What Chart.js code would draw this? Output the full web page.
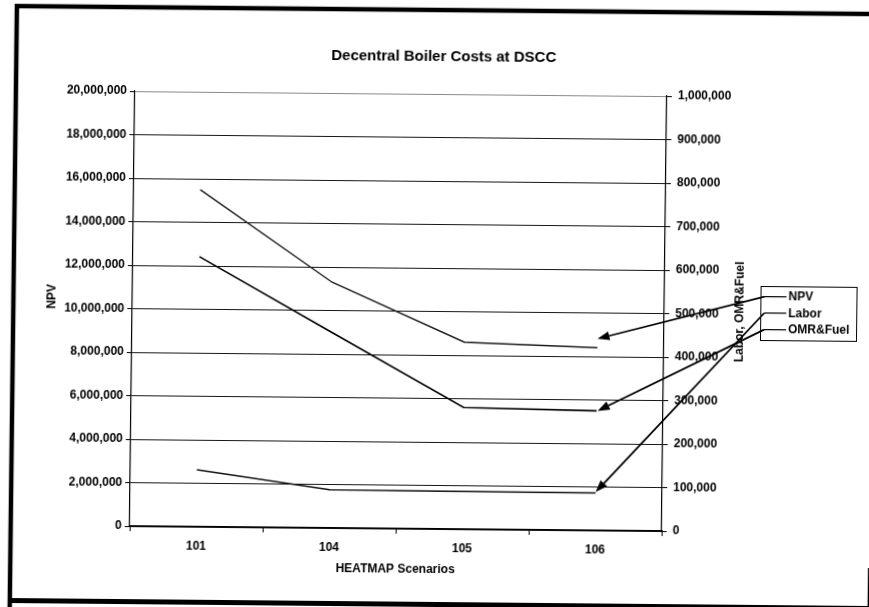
<!DOCTYPE html>
<html>
<head>
<meta charset="utf-8">
<title>Decentral Boiler Costs at DSCC</title>
<script src="https://cdn.jsdelivr.net/npm/chart.js@4.4.1/dist/chart.umd.min.js"></script>
<style>
  html, body { margin: 0; padding: 0; background: #fff; overflow: hidden; width: 869px; height: 607px; }
  /* the sheet sits slightly askew on the page */
  #sheet { position: absolute; left: 0; top: 0; width: 869px; height: 607px;
           transform-origin: 0 0; transform: matrix(1, 0.0093, -0.012, 1, 10, 0); }
</style>
</head>
<body>
<div id="sheet"><canvas id="chart" width="869" height="607"></canvas></div>
<script>
// HEATMAP scenarios along the x axis
const scenarios = ['101', '104', '105', '106'];

// Net present value (left axis)
const npv = [15500000, 11300000, 8600000, 8400000];

// Annual labor cost (right axis)
const labor = [131000, 88000, 87000, 86000];

// Annual OMR & fuel cost (right axis)
const omrFuel = [621000, 450000, 280000, 275000];

// Axis ranges and steps
const npvAxis = { min: 0, max: 20000000, step: 2000000 };
const costAxis = { min: 0, max: 1000000, step: 100000 };

const FONT = "'Liberation Sans', Arial, sans-serif";
Chart.defaults.font.family = FONT;
Chart.defaults.color = '#000';

const fmt = v => Number(v).toLocaleString('en-US');

// Callout arrows run from the legend keys to the last point of each series
const calloutOffsets = [[0, -9], [0, -1], [1, 0]];

const sheetNotes = {
  id: 'sheetNotes',
  beforeDraw(chart) {
    const c = chart.ctx;
    c.save();
    c.fillStyle = '#fff';
    c.fillRect(0, 0, chart.width, chart.height);
    // page frame
    c.strokeStyle = '#000';
    c.lineCap = 'butt';
    c.lineWidth = 4.5;
    c.beginPath();
    c.moveTo(7, 620); c.lineTo(7, 6); c.lineTo(880, 6);
    c.stroke();
    c.lineWidth = 5;
    c.beginPath();
    c.moveTo(5, 600.5); c.lineTo(880, 600.5);
    c.stroke();
    c.lineWidth = 2.5;
    c.beginPath();
    c.moveTo(866, 560); c.lineTo(866, 620);
    c.stroke();
    c.restore();
  },
  afterDraw(chart) {
    const c = chart.ctx;
    c.save();
    c.fillStyle = '#000';
    c.font = 'bold 12px ' + FONT;
    c.textAlign = 'center';
    c.textBaseline = 'middle';

    // vertical axis titles, both reading upward
    c.save(); c.translate(45.5, 296); c.rotate(-Math.PI / 2);
    c.fillText('NPV', 0, 0); c.restore();
    c.save(); c.translate(734, 305); c.rotate(-Math.PI / 2);
    c.fillText('Labor, OMR&Fuel', 0, 0); c.restore();

    // legend box
    const box = { x: 754.5, y: 279.5, w: 96, h: 54 };
    c.fillStyle = '#fff';
    c.fillRect(box.x, box.y, box.w, box.h);
    c.strokeStyle = '#000';
    c.lineWidth = 1;
    c.strokeRect(box.x, box.y, box.w, box.h);

    const keyX0 = 758, keyX1 = 780, textX = 782;
    const rowY = [289.6, 306, 322.6];
    c.textAlign = 'left';
    chart.data.datasets.forEach((ds, i) => {
      const y = rowY[i];
      c.strokeStyle = '#000';
      c.lineWidth = 1.2;
      c.beginPath(); c.moveTo(keyX0, y); c.lineTo(keyX1, y); c.stroke();
      c.fillStyle = '#000';
      c.fillText(ds.label, textX, y + 0.5);
    });

    // arrows from each legend key to the end of its line
    chart.data.datasets.forEach((ds, i) => {
      const meta = chart.getDatasetMeta(i);
      const last = meta.data[meta.data.length - 1];
      const tx = last.x + calloutOffsets[i][0];
      const ty = last.y + calloutOffsets[i][1];
      const sx = keyX0, sy = rowY[i];
      const ang = Math.atan2(ty - sy, tx - sx);
      const len = 12, half = 4.5;
      const bx = tx - len * Math.cos(ang), by = ty - len * Math.sin(ang);
      c.strokeStyle = '#000';
      c.lineWidth = 1.8;
      c.beginPath(); c.moveTo(sx, sy); c.lineTo(bx, by); c.stroke();
      c.fillStyle = '#000';
      c.beginPath();
      c.moveTo(tx, ty);
      c.lineTo(bx + half * Math.sin(ang), by - half * Math.cos(ang));
      c.lineTo(bx - half * Math.sin(ang), by + half * Math.cos(ang));
      c.closePath(); c.fill();
    });
    c.restore();
  }
};

new Chart(document.getElementById('chart'), {
  type: 'line',
  data: {
    labels: scenarios,
    datasets: [
      { label: 'NPV', data: npv, yAxisID: 'y',
        borderColor: '#1a1a1a', borderWidth: 1.4 },
      { label: 'Labor', data: labor, yAxisID: 'y2',
        borderColor: '#111', borderWidth: 1.5 },
      { label: 'OMR&Fuel', data: omrFuel, yAxisID: 'y2',
        borderColor: '#000', borderWidth: 1.6 }
    ]
  },
  options: {
    responsive: false,
    animation: false,
    devicePixelRatio: 1,
    layout: { padding: { left: 0, right: 0, top: 0, bottom: 27 } },
    elements: {
      point: { radius: 0, hoverRadius: 0 },
      line: { tension: 0, fill: false, borderCapStyle: 'butt' }
    },
    plugins: {
      legend: { display: false },
      tooltip: { enabled: false },
      title: {
        display: true,
        text: 'Decentral Boiler Costs at DSCC',
        color: '#000',
        font: { size: 15, weight: 'bold', family: FONT },
        padding: { top: 44, bottom: 28 }
      }
    },
    scales: {
      x: {
        type: 'category',
        offset: true,
        grid: { offset: true, drawOnChartArea: false, drawTicks: true, tickLength: 5,
                color: '#000', lineWidth: 1 },
        border: { display: true, color: '#000', width: 1.2 },
        ticks: { color: '#000', padding: 7, font: { size: 12, weight: 'bold' }, maxRotation: 0 },
        title: { display: true, text: 'HEATMAP Scenarios', color: '#000',
                 font: { size: 12, weight: 'bold' }, padding: { top: 0, bottom: 7.5 } },
        afterFit(scale) { scale.height = 55; }
      },
      y: {
        position: 'left',
        min: npvAxis.min, max: npvAxis.max,
        grid: {
          drawTicks: true, tickLength: 5, lineWidth: 1,
          color: ctx => (ctx.tick && ctx.tick.value === npvAxis.max) ? '#8a8a8a' : '#161616',
          tickColor: '#000'
        },
        border: { display: true, color: '#000', width: 1.2 },
        ticks: { stepSize: npvAxis.step, padding: 3, color: '#000',
                 font: { size: 12, weight: 'bold' }, callback: v => fmt(v) },
        afterFit(scale) { scale.width = 126; }
      },
      y2: {
        position: 'right',
        min: costAxis.min, max: costAxis.max,
        grid: { drawOnChartArea: false, drawTicks: true, tickLength: 5, color: '#000' },
        border: { display: true, color: '#000', width: 1.2 },
        ticks: { stepSize: costAxis.step, padding: 6, color: '#000',
                 font: { size: 12, weight: 'bold' }, callback: v => fmt(v) },
        afterFit(scale) { scale.width = 211; }
      }
    }
  },
  plugins: [sheetNotes]
});
</script>
</body>
</html>
